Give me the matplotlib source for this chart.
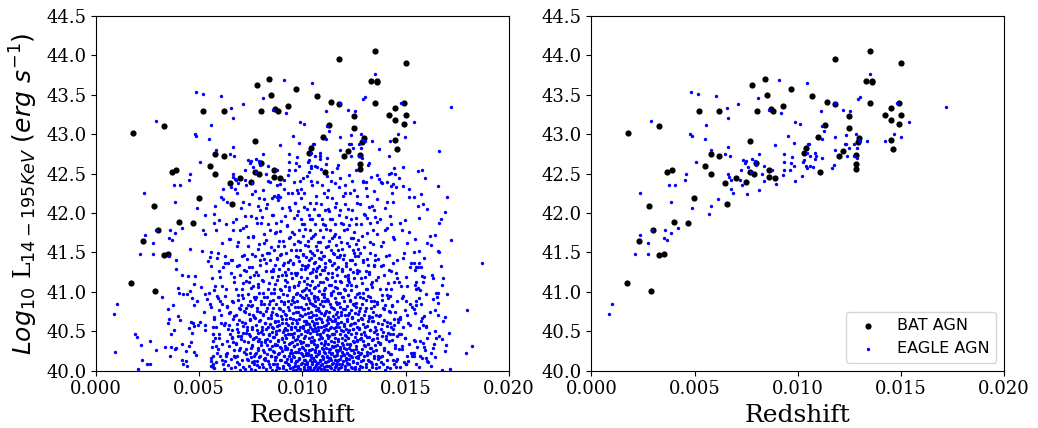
import numpy as np
import matplotlib.pyplot as plt

# BAT AGN: redshift and log10 L(14-195 keV)
bat_z = [0.00178, 0.00329, 0.00520, 0.00620, 0.00780, 0.00840, 0.00849, 0.00969, 0.00801, 0.00869,
         0.00880, 0.00930, 0.00770, 0.00579, 0.00620, 0.00550, 0.00579, 0.00798, 0.00770, 0.00789,
         0.00861, 0.00861, 0.00890, 0.00699, 0.00649, 0.00749, 0.00368, 0.00389, 0.00498, 0.01030,
         0.01040, 0.01179, 0.01350, 0.01501, 0.01331, 0.01360, 0.01361, 0.01071, 0.01140, 0.01179,
         0.01350, 0.01491, 0.01451, 0.01422, 0.01451, 0.01501, 0.01491, 0.01250, 0.01131, 0.01250,
         0.01100, 0.01299, 0.01291, 0.01451, 0.01460, 0.01221, 0.01200, 0.01281, 0.01281, 0.01281,
         0.01109, 0.00279, 0.00658, 0.00400, 0.00469, 0.00300, 0.00230, 0.00329, 0.00350, 0.00171,
         0.00288]
bat_lum = [43.02, 43.10, 43.29, 43.30, 43.63, 43.70, 43.50, 43.58, 43.29, 43.32,
           43.29, 43.36, 42.91, 42.75, 42.73, 42.60, 42.49, 42.64, 42.52, 42.50,
           42.54, 42.46, 42.45, 42.44, 42.38, 42.39, 42.52, 42.55, 42.19, 42.76,
           42.82, 43.96, 44.06, 43.90, 43.68, 43.68, 43.66, 43.48, 43.41, 43.38,
           43.40, 43.40, 43.33, 43.25, 43.18, 43.24, 43.13, 43.23, 43.12, 43.08,
           42.96, 42.95, 42.90, 42.93, 42.81, 42.79, 42.72, 42.74, 42.62, 42.56,
           42.52, 42.09, 42.11, 41.89, 41.87, 41.79, 41.65, 41.47, 41.48, 41.11,
           41.01]

# EAGLE AGN, written as "z*1e5,logL*100"
# matched sample (shown in both panels)
eagle_matched = """
290,4317 484,4353 518,4351 605,4348 710,4338 656,4333 662,4320 809,4346 911,4369 1046,4365
859,4331 919,4327 557,4312 478,4300 486,4298 549,4294 988,4315 1009,4313 954,4298 982,4289
1051,4287 891,4286 663,4284 581,4280 505,4265 649,4275 670,4272 811,4275 777,4269 737,4267
749,4266 746,4263 791,4266 796,4261 759,4258 835,4260 774,4252 825,4250 877,4254 935,4275
974,4271 935,4265 969,4263 1025,4265 1030,4267 983,4260 935,4255 962,4255 1040,4260 1043,4257
930,4248 1021,4247 988,4241 893,4237 835,4241 663,4250 666,4246 678,4242 723,4254 720,4242
728,4235 675,4231 684,4226 755,4224 811,4229 457,4249 452,4242 377,4236 405,4235 234,4225
615,4218 385,4214 487,4206 579,4209 571,4199 237,4172 293,4178 358,4178 384,4175 419,4181
353,4168 366,4166 275,4162 211,4148 275,4148 101,4084 86,4072 1350,4377 1181,4340 1292,4345
1302,4347 1480,4340 1114,4330 1219,4331 1253,4329 1539,4315 1720,4334 1117,4310 1129,4304 1182,4297
1116,4294 1235,4299 1284,4300 1296,4293 1302,4291 1337,4292 1423,4292 1465,4300 1499,4297 1056,4287
1181,4280 1228,4287 1235,4287 1247,4283 1273,4287 1286,4282 1043,4276 1059,4273 1084,4276 1087,4272
1119,4270 1084,4269 1237,4273 1275,4273 1288,4270 1059,4260 1072,4259 1174,4261 1166,4257
"""

# rest of the EAGLE sample (left panel only)
eagle_low_z = """
527,4198 355,4145 456,4154 517,4178 530,4174 514,4152 559,4151 554,4144 541,4139 559,4133
386,4140 386,4129 415,4121 446,4120 480,4120 473,4110 396,4105 402,4099 420,4097 441,4097
456,4101 465,4092 509,4106 527,4097 546,4098 539,4091 488,4089 475,4083 551,4084 559,4081
523,4074 572,4102 318,4093 347,4078 372,4083 347,4060 362,4047 379,4051 396,4069 406,4064
354,4065 452,4054 473,4057 493,4058 465,4048 459,4062 469,4061 503,4062 527,4058 528,4052
567,4055 567,4047 189,4047 199,4043 262,4037 220,4032 91,4024 336,4030 362,4030 357,4019
292,4026 381,4028 388,4029 415,4034 452,4031 460,4036 438,4025 475,4024 485,4020 415,4013
438,4012 420,4008 441,4006 221,4013 246,4008 263,4008 202,4002 557,4016 557,4012 568,4008
568,4004 568,4019 568,4037 560,4030
"""

eagle_high_z = """
1560,4209 1586,4211 1565,4194 1693,4201 1670,4192 1664,4187 1644,4172 1720,4166 1603,4162 1625,4160
1664,4150 1543,4151 1565,4152 1871,4136 1543,4136 1567,4137 1549,4131 1559,4131 1670,4133 1628,4122
1581,4120 1588,4119 1683,4118 1586,4113 1552,4112 1546,4109 1552,4104 1562,4105 1569,4102 1646,4098
1656,4099 1654,4094 1701,4097 1633,4091 1565,4092 1549,4088 1575,4085 1552,4083 1543,4078 1799,4077
1656,4071 1591,4069 1581,4067 1574,4063 1691,4068 1599,4057 1598,4055 1564,4054 1641,4050 1712,4048
1649,4042 1677,4040 1606,4041 1541,4039 1585,4035 1639,4034 1821,4031 1556,4030 1591,4030 1596,4026
1693,4025 1625,4022 1795,4022 1543,4022 1541,4019 1569,4018 1578,4016 1598,4016 1607,4011 1625,4006
1549,4009 1564,4005 1677,4001 1717,4002
"""

eagle_upper = """
1541,4221 1574,4224 1700,4220 1664,4279 1657,4234 1560,4253 1580,4255 1593,4245 1486,4259 1446,4257
1420,4250 1431,4251 1449,4250 1467,4245 1438,4237 1428,4234 1434,4226 1489,4234 1412,4240 1381,4239
1363,4248 1321,4264 1320,4261 1371,4281 1421,4272 1182,4244 879,4235 948,4226 961,4239 992,4230
882,4223 893,4220 854,4219 980,4226 1205,4236 1228,4248 1251,4229 1262,4255 1296,4241 1310,4232
1335,4246 1347,4228 1160,4238 1145,4252 1118,4247 1005,4244 1032,4252 1071,4239 1090,4256 1113,4262
"""

eagle_core_a = """
574,4003 581,4011 603,4018 592,4027 611,4034 577,4041 596,4046 616,4009 588,4022
583,4055 607,4061 573,4068 598,4077 612,4085 589,4092 604,4071
579,4108 601,4119 614,4131 586,4143 597,4126 609,4162 582,4178 598,4191 605,4221
622,4002 638,4007 655,4015 629,4021 667,4026 644,4031 633,4038 659,4043 648,4047 626,4012 662,4036
641,4053 627,4061 664,4066 650,4074 635,4082 657,4089 623,4095 646,4058
631,4104 668,4113 652,4124 639,4137 624,4146 661,4141 644,4167 628,4186 665,4179 637,4214 653,4233
673,4004 691,4009 708,4013 684,4019 716,4024 697,4029 678,4035 704,4040 688,4044 713,4048 675,4017 700,4001
682,4053 711,4057 694,4064 676,4071 718,4076 701,4083 686,4090 709,4096 692,4079
678,4103 714,4111 696,4122 683,4133 706,4145 719,4128 689,4163 712,4181 677,4192 702,4207 687,4238
723,4002 741,4006 758,4011 732,4015 765,4019 747,4023 728,4028 754,4032 737,4036 762,4040 745,4044
726,4048 768,4008 750,4017
733,4052 756,4055 721,4060 747,4064 764,4068 739,4072 729,4079 758,4083 744,4088 767,4093 735,4097
752,4105 725,4114 766,4122 741,4131 731,4142 757,4148 746,4119 738,4158 762,4169 727,4183 751,4196
743,4212 769,4228
772,4001 789,4004 806,4008 781,4012 815,4015 796,4019 776,4022 809,4026 785,4029 801,4033 818,4036
792,4040 774,4043 811,4046 798,4049 783,4038
779,4052 803,4056 817,4060 788,4063 771,4067 807,4071 794,4075 782,4080 814,4085 799,4089 776,4094 810,4098
786,4106 805,4115 773,4125 797,4134 816,4142 784,4110 802,4147 791,4161 812,4174 778,4187 804,4195
787,4209 813,4218 795,4204
823,4002 841,4005 858,4009 832,4012 866,4014 849,4018 827,4021 861,4024 838,4027 853,4031 869,4034
845,4037 829,4040 863,4043 836,4046 851,4049 821,4016
826,4053 855,4056 842,4059 868,4063 833,4067 849,4071 824,4076 860,4080 839,4085 857,4090 831,4094 846,4098
864,4104 837,4111 852,4119 825,4127 867,4134 843,4141 830,4149 858,4126
847,4157 822,4166 865,4175 835,4186 854,4197 828,4212 862,4222 844,4239
871,4001 888,4003 906,4006 879,4009 915,4011 897,4014 874,4017 910,4019 886,4022 902,4025 918,4027
893,4030 877,4033 912,4036 883,4039 899,4042 916,4045 873,4047 905,4049
889,4052 914,4054 876,4057 901,4060 884,4063 919,4066 895,4069 872,4072 908,4076 887,4080 913,4084
898,4088 880,4093 904,4097
892,4103 917,4108 875,4115 903,4121 886,4129 911,4136 878,4142 896,4148 914,4125
882,4158 907,4165 890,4177 874,4188 916,4196 899,4207 881,4216 909,4231
"""

eagle_core_b = """
921,4001 939,4003 956,4005 928,4008 964,4010 947,4012 924,4015 959,4017 936,4019 951,4022 968,4024
943,4026 927,4029 961,4031 933,4034 949,4036 966,4039 922,4041 954,4043 938,4046 958,4048
925,4051 946,4053 963,4056 931,4058 952,4061 969,4064 940,4067 923,4070 957,4073 935,4077 962,4081
944,4085 929,4089 955,4093 967,4097
937,4102 960,4107 926,4112 948,4118 965,4124 932,4129 953,4135 942,4141 969,4146 921,4122
945,4153 961,4161 934,4168 950,4176 926,4185 958,4194 940,4204 965,4213 931,4226
971,4001 988,4002 1006,4004 979,4006 1015,4008 997,4010 974,4012 1010,4014 986,4016 1002,4018
1018,4020 993,4022 977,4024 1012,4026 983,4028 999,4030 1016,4032 972,4034 1005,4036 990,4038
1008,4041 980,4044 995,4047
1013,4050 976,4052 1001,4054 989,4056 1017,4059 973,4061 1007,4063 985,4066 998,4069 1014,4072
978,4075 1003,4078 991,4081 1019,4085 975,4088 1009,4092 987,4096
1000,4101 1016,4105 981,4109 1006,4114 992,4119 974,4124 1011,4129 996,4134 983,4139 1019,4144 1003,4148
990,4153 1014,4159 977,4165 1002,4171 986,4179 1010,4186 994,4193 981,4202 1008,4208 995,4219 976,4229
1021,4001 1038,4002 1056,4003 1029,4005 1065,4007 1047,4009 1024,4011 1060,4012 1036,4014 1052,4016
1068,4018 1043,4020 1027,4022 1062,4024 1033,4026 1049,4028 1066,4030 1022,4032 1055,4034 1040,4036
1058,4039 1030,4041 1045,4043 1069,4046 1035,4048
1051,4050 1025,4052 1063,4054 1039,4056 1057,4058 1023,4061 1046,4063 1067,4065 1031,4068 1053,4071
1041,4074 1064,4077 1026,4080 1050,4083 1037,4086 1061,4089 1028,4092 1054,4095 1044,4098
1032,4102 1059,4106 1024,4110 1048,4114 1066,4119 1035,4124 1053,4129 1029,4134 1061,4138 1042,4143
1056,4147 1022,4131
1039,4152 1064,4158 1027,4164 1050,4171 1036,4179 1062,4186 1045,4193 1031,4198
1058,4205 1038,4213 1067,4222 1047,4236
1072,4001 1089,4002 1106,4004 1079,4005 1115,4006 1097,4008 1074,4010 1110,4011 1086,4013 1102,4015
1118,4017 1093,4019 1077,4021 1112,4023 1083,4025 1099,4027 1116,4029 1071,4031 1105,4033 1090,4035
1108,4038 1080,4040 1095,4042 1119,4045 1085,4047
1101,4049 1075,4051 1113,4053 1088,4055 1107,4057 1073,4060 1096,4062 1117,4064 1081,4067 1103,4070
1091,4073 1114,4076 1076,4079 1100,4082 1087,4085 1111,4088 1078,4091 1104,4094 1094,4097
1082,4101 1109,4105 1074,4109 1098,4113 1116,4118 1085,4123 1103,4128 1079,4133 1111,4137 1092,4142
1106,4146 1072,4130
1089,4151 1114,4157 1077,4163 1100,4170 1086,4178 1112,4185 1095,4192 1081,4197
1108,4204 1088,4212 1117,4221 1097,4235
1121,4001 1138,4003 1156,4004 1129,4006 1165,4008 1147,4010 1124,4012 1160,4014 1136,4016 1152,4018
1168,4020 1143,4022 1127,4024 1162,4026 1133,4028 1149,4030 1166,4032 1122,4034 1155,4036 1140,4038
1158,4041 1130,4044 1145,4047
1163,4050 1126,4052 1151,4054 1139,4056 1167,4059 1123,4061 1157,4063 1135,4066 1148,4069 1164,4072
1128,4075 1153,4078 1141,4081 1169,4085 1125,4088 1159,4092 1137,4096
1150,4101 1166,4105 1131,4109 1156,4114 1142,4119 1124,4124 1161,4129 1146,4134 1133,4139 1169,4144 1153,4148
1140,4153 1164,4159 1127,4165 1152,4171 1136,4179 1160,4186 1144,4193 1131,4202 1158,4208 1145,4219 1126,4229
1171,4002 1188,4004 1206,4006 1179,4008 1215,4010 1197,4012 1174,4014 1210,4016 1186,4018 1202,4020
1218,4022 1193,4024 1177,4026 1212,4028 1183,4030 1199,4032 1216,4034 1172,4037 1205,4039 1190,4042
1208,4045 1180,4047
1195,4050 1213,4053 1176,4056 1201,4059 1189,4062 1217,4065 1173,4068 1207,4071 1185,4075 1198,4078
1214,4082 1178,4086 1203,4089 1191,4093 1219,4096 1182,4099
1200,4104 1216,4109 1181,4114 1206,4120 1192,4126 1174,4132 1211,4137 1196,4142 1183,4147 1219,4115
1190,4155 1214,4162 1177,4170 1202,4178 1186,4187 1210,4195 1181,4204 1208,4211 1195,4222 1176,4233
"""

eagle_core_c = """
1221,4001 1239,4003 1256,4005 1228,4008 1264,4010 1247,4012 1224,4015 1259,4017 1236,4019 1251,4022
1268,4024 1243,4026 1227,4029 1261,4031 1233,4034 1249,4036 1266,4039 1222,4041 1254,4043 1238,4046 1258,4048
1225,4051 1246,4053 1263,4056 1231,4058 1252,4061 1269,4064 1240,4067 1223,4070 1257,4073 1235,4077
1262,4081 1244,4085 1229,4089 1255,4093 1267,4097
1237,4102 1260,4107 1226,4112 1248,4118 1265,4124 1232,4129 1253,4135 1242,4141 1269,4146 1221,4122
1245,4153 1261,4161 1234,4168 1250,4176 1226,4185 1258,4194 1240,4204 1265,4213 1231,4226
1273,4002 1291,4005 1308,4009 1282,4012 1316,4014 1299,4018 1277,4021 1311,4024 1288,4027 1303,4031
1319,4034 1295,4037 1279,4040 1313,4043 1286,4046 1301,4049 1271,4016
1276,4053 1305,4056 1292,4059 1318,4063 1283,4067 1299,4071 1274,4076 1310,4080 1289,4085 1307,4090
1281,4094 1296,4098
1314,4104 1287,4111 1302,4119 1275,4127 1317,4134 1293,4141 1280,4149 1308,4126
1297,4157 1272,4166 1315,4175 1285,4186 1304,4197 1278,4212 1312,4222 1294,4239
1322,4001 1339,4004 1356,4008 1331,4011 1365,4015 1347,4019 1326,4022 1359,4026 1335,4029 1351,4033
1368,4036 1343,4040 1324,4043 1361,4046 1348,4049
1329,4052 1353,4056 1367,4060 1338,4063 1321,4067 1357,4071 1344,4075 1332,4080 1364,4085 1349,4089 1326,4094
1336,4106 1355,4115 1323,4125 1347,4134 1366,4142 1334,4110 1352,4147
1341,4161 1362,4174 1328,4187 1354,4195 1337,4209 1363,4218 1345,4204
1373,4004 1391,4009 1408,4013 1384,4019 1416,4024 1397,4029 1378,4035 1404,4040 1388,4044 1413,4048
1375,4017 1400,4001
1382,4053 1411,4057 1394,4064 1376,4071 1418,4076 1401,4083 1386,4090 1409,4096 1392,4079
1378,4103 1414,4111 1396,4122 1383,4133 1406,4145 1419,4128 1389,4163 1412,4181 1377,4192
1402,4207 1387,4238
1424,4003 1442,4009 1459,4015 1431,4021 1467,4027 1448,4033 1435,4039 1461,4044 1426,4047 1452,4012
1441,4053 1427,4061 1464,4066 1450,4074 1435,4082 1457,4089 1423,4095 1446,4058
1431,4104 1468,4113 1452,4124 1439,4137 1461,4141 1444,4167 1428,4186 1437,4214 1456,4233
1474,4004 1491,4011 1509,4018 1482,4027 1518,4034 1497,4041 1477,4046 1503,4009 1525,4023
1488,4055 1512,4061 1473,4068 1499,4077 1521,4085 1485,4092 1506,4071
1479,4108 1501,4119 1524,4131 1487,4143 1509,4162 1482,4178 1498,4191 1515,4221
"""

eagle_core_d = """
556,4006 612,4014 637,4023 581,4031 598,4042 629,4019 569,4047 621,4058 574,4066 645,4073
603,4088 586,4095 633,4081 609,4107 561,4118 627,4136 592,4149 648,4167 571,4188 617,4231
655,4003 712,4005 683,4011 738,4013 667,4018 726,4021 695,4026 749,4029 676,4034 718,4037
661,4041 703,4044 741,4047 689,4049 658,4052 731,4055 684,4059 709,4062 746,4066 671,4069
723,4074 697,4078 735,4083 664,4087 714,4092 687,4096 706,4104 742,4112 668,4119 728,4127
691,4134 652,4141 719,4147 681,4158 737,4169 699,4178 662,4189 724,4196 711,4214 673,4243
753,4002 807,4004 778,4007 836,4009 764,4012 821,4014 792,4017 848,4019 771,4021 813,4024
786,4026 842,4028 758,4031 829,4033 799,4036 817,4039 767,4042 838,4045 784,4048 804,4051
757,4053 833,4055 776,4058 819,4061 793,4064 846,4067 762,4070 811,4072 781,4076 827,4079
752,4082 798,4085 841,4088 771,4091 816,4094 789,4098 835,4103 763,4108 808,4114 784,4121
847,4126 755,4132 824,4137 796,4141 771,4146 839,4149 787,4154 816,4162 759,4171 843,4179
801,4187 774,4194 826,4206 791,4219 758,4238
852,4001 906,4003 877,4005 934,4007 863,4009 921,4011 891,4013 947,4015 869,4017 912,4019
884,4021 941,4023 856,4025 927,4027 898,4029 917,4031 866,4033 938,4035 883,4037 903,4040
859,4043 929,4046 874,4050 912,4052 856,4054 945,4056 888,4058 923,4060 867,4062 901,4065
939,4067 879,4070 916,4072 853,4075 894,4078 932,4081 871,4084 909,4087 948,4090 885,4093
925,4096 861,4099 898,4102 936,4106 868,4110 917,4115 884,4120 944,4124 857,4129 905,4134
929,4138 875,4143 893,4147 921,4149 862,4153 913,4158 887,4164 941,4169 871,4176 926,4183
896,4190 858,4197 934,4208 879,4221 911,4242
953,4001 1008,4002 977,4003 1036,4005 962,4006 1021,4008 991,4009 1046,4011 969,4012 1013,4014
984,4015 1041,4017 956,4018 1027,4020 998,4021 1017,4023 966,4024 1038,4026 983,4027 1003,4029
959,4031 1029,4033 994,4035 1044,4037 972,4040 1011,4044 951,4047 1023,4049 986,4051 1047,4053
964,4055 1004,4057 1034,4059 975,4061 1016,4063 957,4066 1042,4068 989,4070 1025,4073 968,4075
1009,4078 981,4081 1049,4084 961,4087 1032,4090 996,4093 1019,4096 973,4099 1006,4102 958,4106
1037,4109 985,4113 1021,4117 967,4121 1045,4125 993,4129 1012,4133 954,4137 1030,4141 979,4144
1001,4147 1048,4149 971,4153 1026,4158 987,4163 1043,4168 959,4174 1014,4180 998,4186 1035,4192
976,4198 1022,4205 964,4213 1007,4226 1040,4241
1053,4001 1107,4002 1078,4003 1136,4004 1063,4005 1121,4006 1092,4007 1146,4008 1069,4010 1113,4011
1084,4012 1141,4013 1056,4014 1127,4016 1098,4017 1117,4018 1066,4019 1138,4021 1083,4022 1103,4024
1059,4026 1129,4027 1094,4029 1144,4031 1072,4033 1111,4035 1051,4038 1123,4041 1086,4045 1147,4047
1064,4050 1104,4052 1134,4054 1075,4056 1116,4058 1057,4061 1142,4063 1089,4065 1125,4068 1068,4070
1109,4073 1081,4076 1149,4079 1061,4082 1132,4085 1096,4088 1119,4091 1073,4094 1106,4097 1139,4099
1054,4092 1091,4043 1106,4102 1058,4105 1137,4109 1085,4112 1121,4116 1067,4120 1145,4124 1093,4128
1112,4132 1054,4136 1130,4140 1079,4143 1101,4146 1148,4149 1065,4126 1071,4153 1126,4158 1087,4163
1143,4168 1059,4174 1114,4180 1098,4186 1135,4192 1076,4198 1122,4205 1064,4213 1107,4226 1140,4241
1153,4001 1208,4002 1177,4003 1236,4005 1162,4006 1221,4008 1191,4009 1246,4011 1169,4012 1213,4014
1184,4015 1241,4017 1156,4018 1227,4020 1198,4021 1217,4023 1166,4024 1238,4026 1183,4027 1203,4029
1159,4031 1229,4033 1194,4035 1244,4037 1172,4040 1211,4044 1151,4047 1223,4049 1186,4051 1247,4053
1164,4055 1204,4057 1234,4059 1175,4061 1216,4063 1157,4066 1242,4068 1189,4070 1225,4073 1168,4075
1209,4078 1181,4081 1249,4084 1161,4087 1232,4090 1196,4093 1219,4096 1173,4099 1206,4102 1158,4106
1237,4109 1185,4113 1221,4117 1167,4121 1245,4125 1193,4129 1212,4133 1154,4137 1230,4141 1179,4144
1201,4147 1248,4149 1171,4153 1226,4158 1187,4163 1243,4168 1159,4174 1214,4180 1198,4186 1235,4192
1176,4198 1222,4205 1164,4213 1207,4226 1240,4241
1253,4002 1307,4004 1278,4006 1336,4008 1264,4010 1321,4012 1292,4014 1346,4016 1271,4018 1313,4020
1286,4023 1342,4025 1258,4027 1329,4029 1299,4032 1317,4034 1267,4037 1338,4039 1283,4042 1303,4045
1259,4048 1329,4051 1274,4054 1311,4057 1256,4060 1344,4063 1289,4066 1323,4069 1268,4072 1305,4076
1281,4079 1348,4082 1261,4086 1332,4089 1296,4092 1319,4095 1273,4098 1339,4068 1251,4083 1306,4103
1258,4108 1337,4113 1285,4118 1321,4123 1267,4128 1345,4133 1293,4138 1312,4142 1254,4146 1330,4149
1271,4155 1326,4163 1287,4171 1343,4179 1259,4186 1314,4194 1298,4199 1322,4208 1264,4222 1307,4240
1355,4003 1412,4005 1383,4011 1438,4013 1367,4018 1426,4021 1395,4026 1449,4029 1376,4034 1418,4037
1361,4041 1403,4044 1441,4047 1389,4049 1358,4052 1431,4055 1384,4059 1409,4062 1446,4066 1371,4069
1423,4074 1397,4078 1435,4083 1364,4087 1414,4092 1387,4096 1406,4104 1442,4112 1368,4119 1428,4127
1391,4134 1352,4141 1419,4147 1381,4158 1437,4169 1399,4178 1362,4189 1424,4196 1411,4214 1373,4243
1456,4004 1512,4012 1537,4023 1481,4031 1498,4042 1529,4019 1469,4047 1544,4037 1503,4008 1521,4058
1474,4066 1545,4073 1503,4088 1486,4095 1533,4081 1462,4062 1509,4107 1461,4118 1527,4136 1492,4149
1547,4128 1548,4167 1471,4188 1518,4176 1517,4231
1604,4012 1631,4029 1662,4044 1587,4058 1618,4075 1655,4086 1683,4063 1571,4037 1613,4048 1641,4017
1597,4097 1633,4118 1676,4109 1588,4143 1619,4171 1659,4152 1606,4205 1574,4131 1642,4077 1694,4033
"""


def read_pairs(text):
    vals = np.array([t.split(',') for t in text.split()], dtype=float)
    return vals[:, 0] * 1e-5, vals[:, 1] * 1e-2


match_z, match_lum = read_pairs(eagle_matched)
rest = [read_pairs(s) for s in (eagle_low_z, eagle_high_z, eagle_upper,
                                eagle_core_a, eagle_core_b, eagle_core_c, eagle_core_d)]
all_z = np.concatenate([match_z] + [r[0] for r in rest])
all_lum = np.concatenate([match_lum] + [r[1] for r in rest])

plt.rcParams['font.family'] = 'serif'
plt.rcParams['font.serif'] = ['DejaVu Serif']
plt.rcParams['mathtext.fontset'] = 'dejavusans'

fig = plt.figure(figsize=(10.38, 4.28), dpi=100)
ax1 = fig.add_axes([0.0925, 0.134, 0.3976, 0.8285])
ax2 = fig.add_axes([0.5698, 0.134, 0.3974, 0.8285])

ax1.scatter(bat_z, bat_lum, s=20, c='black', lw=0, label='BAT AGN')
ax1.scatter(all_z, all_lum, s=6, c='blue', lw=0, label='EAGLE AGN')

ax2.scatter(bat_z, bat_lum, s=20, c='black', lw=0, label='BAT AGN')
ax2.scatter(match_z, match_lum, s=6, c='blue', lw=0, label='EAGLE AGN')

for ax in (ax1, ax2):
    ax.set_xlim(0, 0.02)
    ax.set_ylim(40.0, 44.5)
    ax.set_xticks(np.arange(0, 0.0201, 0.005))
    ax.set_yticks(np.arange(40.0, 44.51, 0.5))
    ax.xaxis.set_major_formatter(plt.FormatStrFormatter('%.3f'))
    ax.yaxis.set_major_formatter(plt.FormatStrFormatter('%.1f'))
    ax.tick_params(labelsize=13)
    ax.set_xlabel('Redshift', fontsize=18)

ax1.set_ylabel(r'$Log_{10}$ L$_{14-195KeV}$ $(erg\ s^{-1})$', fontsize=18)
ax2.legend(loc='lower right', prop={'family': 'DejaVu Sans', 'size': 11.5})

fig.savefig('out.png', dpi=100)
